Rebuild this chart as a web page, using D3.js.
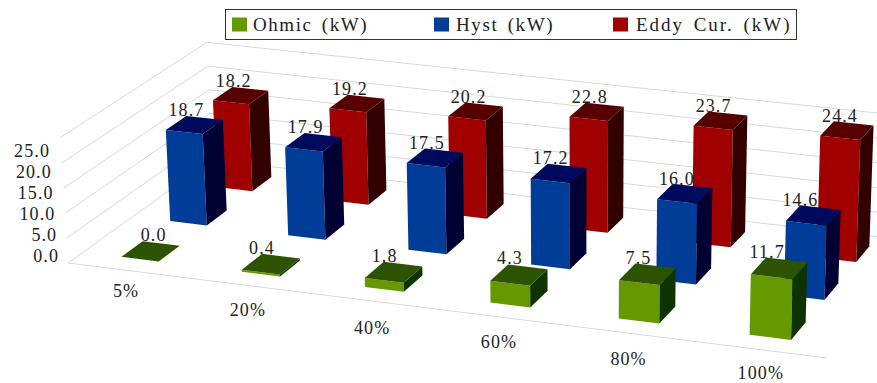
<!DOCTYPE html>
<html>
<head>
<meta charset="utf-8">
<script src="https://cdn.jsdelivr.net/npm/d3@7"></script>
<style>
  html, body { margin: 0; padding: 0; background: #fff; }
  svg { display: block; }
  text { font-family: "Liberation Serif", serif; fill: #222; font-size: 18px; letter-spacing: 1.1px; }
  .legend-label { font-size: 19px; letter-spacing: 1.5px; word-spacing: 3px; }
</style>
</head>
<body>
<svg id="chart" width="877" height="383"></svg>
<script>
// Load levels along the front axis
const categories = ["5%", "20%", "40%", "60%", "80%", "100%"];
// Loss components in kW
const ohmic = [0.0, 0.4, 1.8, 4.3, 7.5, 11.7];
const hyst = [18.7, 17.9, 17.5, 17.2, 16.0, 14.6];
const eddy = [18.2, 19.2, 20.2, 22.8, 23.7, 24.4];
const valueTicks = [0, 5, 10, 15, 20, 25];
const seriesNames = ["Ohmic (kW)", "Hyst (kW)", "Eddy Cur. (kW)"];

const palettes = [
  { front: "#669900", top: "#2d5200", side: "#0f3300" },
  { front: "#003d99", top: "#000a5c", side: "#000033" },
  { front: "#a00000", top: "#560000", side: "#330000" }
];
const seriesValues = [ohmic, hyst, eddy];

// Scales into a unit box: x along the front, y into the page, z upward
const xBand = d3.scaleBand().domain(categories).range([-0.004, 1.0]).paddingInner(0.688).paddingOuter(0.344);
const yBand = d3.scaleBand().domain(d3.range(3)).range([0.004, 1.004]).paddingInner(0.57).paddingOuter(0.285);
const zScale = d3.scaleLinear().domain([0, 25]).range([0, 1]);

// Homogeneous camera: maps a point of the unit box onto the page
function project(x, y, z) {
  const w = 1 - 0.06 * x + 0.079 * y - 0.0147 * z;
  return [
    (68 + 709.4 * x + 160.7 * y - 8.5 * z) / w,
    (263 + 73.5 * x - 90.4 * y - 127.5 * z) / w
  ];
}

const svg = d3.select("#chart");
const polyline = d3.line();
const grid = svg.append("g").attr("fill", "none").attr("stroke", "#d9d9d9").attr("stroke-width", 1);

// Wall gridlines: one polyline from the left-front edge to the back corner and along the back
valueTicks.forEach(v => {
  const z = zScale(v);
  grid.append("path").attr("d", polyline([project(0, 0, z), project(0, 1, z), project(1, 1, z)]));
});
grid.append("path").attr("d", polyline([project(0, 0, 0), project(1, 0, 0)]));

// Value tick labels sit on their own slightly compressed ladder
const tickLabelY = d3.scaleLinear().domain([0, 25]).range([256, 151]);
const tickLabelX = d3.scaleLinear().domain([0, 25]).range([59, 50]);
svg.append("g").selectAll("text").data(valueTicks).join("text")
  .attr("x", tickLabelX).attr("y", tickLabelY)
  .attr("text-anchor", "end").attr("dominant-baseline", "central")
  .text(d3.format(".1f"));

// Category labels under the front edge, each with a small vertical adjustment
const categoryNudge = [-4, 0, 2, 0, 1, -2];
svg.append("g").selectAll("text").data(categories).join("text")
  .attr("x", c => project(xBand(c) + xBand.bandwidth() / 2, 0, 0)[0] + 1)
  .attr("y", (c, i) => project(xBand(c) + xBand.bandwidth() / 2, 0, 0)[1] + 25 + categoryNudge[i])
  .attr("text-anchor", "middle").attr("dominant-baseline", "central")
  .text(c => c);

// Offsets of a value label from the centre of its bar's top face, per series
const labelDx = [-9, -8, -7];
const labelDy = [-16.5, -15, -14.5];
// Labels pushed sideways where they would otherwise crowd a neighbouring bar
const labelShift = new Map([["0-0", 12], ["0-5", -3], ["1-5", -5]]);

// Bars, farthest row first so nearer rows overlap them
const bars = svg.append("g");
const labelRows = [];
[2, 1, 0].forEach(s => {
  const y0 = yBand(s), y1 = y0 + yBand.bandwidth();
  seriesValues[s].forEach((v, i) => {
    const x0 = xBand(categories[i]), x1 = x0 + xBand.bandwidth(), z = zScale(v);
    const g = bars.append("g");
    const face = (pts, fill) => g.append("path")
      .attr("d", polyline(pts.map(p => project(...p))) + "Z").attr("fill", fill);
    face([[x0, y0, 0], [x1, y0, 0], [x1, y0, z], [x0, y0, z]], palettes[s].front);
    face([[x1, y0, 0], [x1, y1, 0], [x1, y1, z], [x1, y0, z]], palettes[s].side);
    face([[x0, y0, z], [x1, y0, z], [x1, y1, z], [x0, y1, z]], palettes[s].top);
    const c = project((x0 + x1) / 2, (y0 + y1) / 2, z);
    labelRows.push({
      v,
      x: c[0] + labelDx[s] + (labelShift.get(`${s}-${i}`) || 0),
      y: c[1] + labelDy[s]
    });
  });
});

// Value labels go last so they stay readable over the bars
svg.append("g").selectAll("text").data(labelRows).join("text")
  .attr("x", d => d.x).attr("y", d => d.y)
  .attr("text-anchor", "middle").attr("dominant-baseline", "central")
  .text(d => d3.format(".1f")(d.v));

// Legend
const legend = svg.append("g");
legend.append("rect").attr("x", 225.5).attr("y", 9.5).attr("width", 571).attr("height", 30)
  .attr("fill", "#fff").attr("stroke", "#333").attr("stroke-width", 1);
const legendSwatchX = [232, 434, 613];
const legendTextX = [253, 456, 636];
const legendTextWidth = [115, 98, 155];
seriesNames.forEach((name, i) => {
  legend.append("rect").attr("x", legendSwatchX[i]).attr("y", 17.5).attr("width", 15).attr("height", 14)
    .attr("fill", palettes[i].front);
  legend.append("text").attr("class", "legend-label").attr("x", legendTextX[i]).attr("y", 24.5)
    .attr("textLength", legendTextWidth[i]).attr("lengthAdjust", "spacing")
    .attr("dominant-baseline", "central").text(name);
});
</script>
</body>
</html>
